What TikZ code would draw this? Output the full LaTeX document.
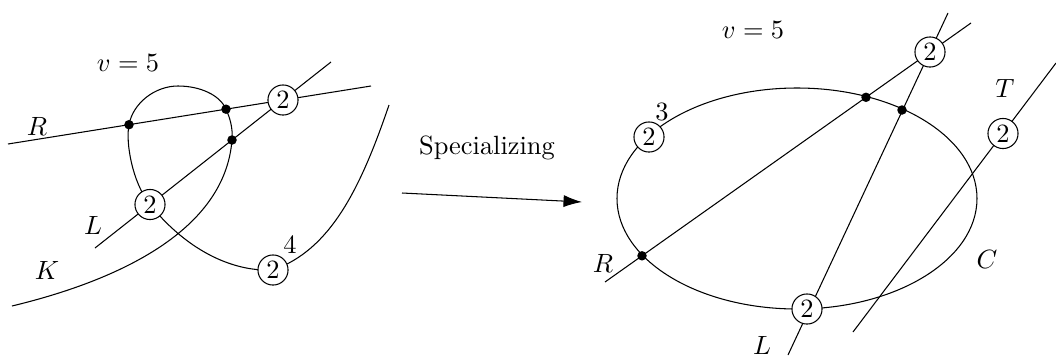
\documentclass[tikz,border=0pt]{standalone}
\usetikzlibrary{arrows.meta,backgrounds}
\begin{document}
\begin{tikzpicture}[x=0.3788pt,y=-0.3788pt,
  mult/.style={circle,draw,fill=white,inner sep=0pt,minimum size=11.4pt},
  dot/.style={circle,fill=black,inner sep=0pt,minimum size=3.6pt},
  lbl/.style={inner sep=0pt}]
\useasboundingbox (0,0) rectangle (1056,356);
% ---------- left picture ----------
\node[lbl] (v1) at (128,63) {$v=5$};
\coordinate (R1s) at (8,144);
\coordinate (R1e) at (371,86);
\coordinate (L1s) at (95,248);
\coordinate (L1e) at (331,62);
\coordinate (K1s) at (12,306);
\coordinate (K1e) at (389,105);
\coordinate (top) at (178,86);
\node[dot] (d1) at (129,124.7) {};
\node[dot] (d2) at (226,109.2) {};
\node[dot] (d3) at (232,140) {};
\node[mult] (m1) at (283,100) {$2$};
\node[mult] (m2) at (150,204.5) {$2$};
\node[mult] (m3) at (273,270) {$2$};
\begin{scope}[on background layer]
\draw (R1s) -- (R1e);
\draw (L1s) -- (L1e);
\draw (K1s) .. controls (120,280) and (225,230) .. (d3.center)
      .. controls (233,128) and (230,118) .. (d2.center)
      .. controls (220,95) and (200,86) .. (top)
      .. controls (155,86) and (133,103) .. (d1.center)
      .. controls (125.5,142) and (132,182) .. (m2.center)
      .. controls (185,248) and (230,272) .. (m3.center)
      .. controls (330,250) and (360,190) .. (K1e);
\end{scope}
\node[lbl] (n4) at (290,245) {$4$};
\node[lbl] (Rl) at (37,126) {$R$};
\node[lbl] (Ll) at (93,225) {$L$};
\node[lbl] (Kl) at (47,270) {$K$};
% ---------- arrow ----------
\node[lbl] (spec) at (487,148) {Specializing};
\coordinate (as) at (402,193);
\coordinate (ae) at (582,202);
\draw[-{Latex[length=7pt,width=4.6pt]}] (as) -- (ae);
% ---------- right picture ----------
\node[lbl] (v2) at (753,30) {$v=5$};
\coordinate (R2s) at (605,282);
\coordinate (R2e) at (971,23);
\coordinate (L2s) at (788,355);
\coordinate (L2e) at (948,13);
\coordinate (T2s) at (853,332);
\coordinate (T2e) at (1056,63);
\node[dot] (e1) at (642,255.8) {};
\node[dot] (e2) at (866,97.3) {};
\node[dot] (e3) at (902,110) {};
\node[mult] (p1) at (649,137) {$2$};
\node[mult] (p2) at (807,309) {$2$};
\node[mult] (p3) at (930,52) {$2$};
\node[mult] (p4) at (1003,133.5) {$2$};
\begin{scope}[on background layer]
\draw (797,198.5) ellipse [x radius=180, y radius=110.5];
\draw (R2s) -- (R2e);
\draw (L2s) -- (L2e);
\draw (T2s) -- (T2e);
\end{scope}
\node[lbl] (n3) at (662,112) {$3$};
\node[lbl] (R2l) at (603,263) {$R$};
\node[lbl] (L2l) at (762,345) {$L$};
\node[lbl] (Cl) at (987,259) {$C$};
\node[lbl] (Tl) at (1005,88) {$T$};
\end{tikzpicture}
\end{document}
